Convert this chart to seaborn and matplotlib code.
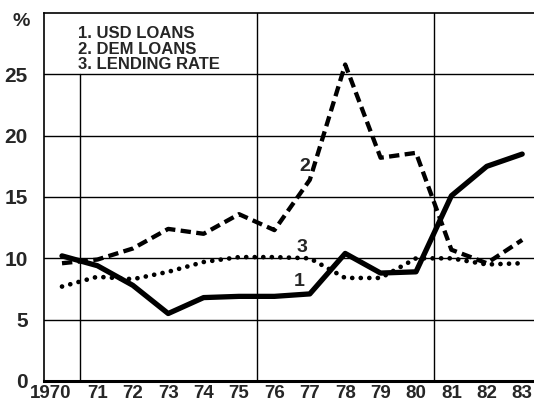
import matplotlib
matplotlib.use("Agg")
import matplotlib.pyplot as plt
import seaborn as sns
import pandas as pd
import numpy as np
from matplotlib.transforms import ScaledTranslation

years = ['1970', '71', '72', '73', '74', '75', '76', '77', '78', '79', '80', '81', '82', '83']
usd_loans = [10.2, 9.4, 7.8, 5.5, 6.8, 6.9, 6.9, 7.1, 10.4, 8.8, 8.9, 15.1, 17.5, 18.5]
dem_loans = [9.6, 9.9, 10.8, 12.4, 12.0, 13.6, 12.3, 16.4, 25.8, 18.2, 18.6, 10.7, 9.6, 11.5]
lending_rate = [7.7, 8.5, 8.3, 8.9, 9.7, 10.1, 10.1, 10.0, 8.4, 8.4, 10.0, 10.0, 9.5, 9.6]
legend_lines = ['1. USD LOANS', '2. DEM LOANS', '3. LENDING RATE']
yticks = [0, 5, 10, 15, 20, 25]

sns.set_style("white")
plt.rcParams['font.family'] = ['Liberation Sans', 'DejaVu Sans']
plt.rcParams['font.weight'] = 'bold'

idx = np.arange(len(years))
df = pd.DataFrame({'idx': idx, 'usd': usd_loans, 'dem': dem_loans, 'lend': lending_rate})

fig = plt.figure(figsize=(5.34, 4.05), dpi=100)
ax = fig.add_axes([44.3 / 534, 24 / 405, 495.6 / 534, 368 / 405])

# grid lines
for yv in [5, 10, 15, 20, 25]:
    ax.axhline(yv, color='black', lw=1.0, zorder=1)
ax.axvline(0.5, ymax=25 / 30, color='black', lw=1.0, zorder=1)
ax.axvline(5.5, color='black', lw=1.0, zorder=1)
ax.axvline(10.5, color='black', lw=1.0, zorder=1)

sns.lineplot(data=df, x='idx', y='usd', ax=ax, color='black', lw=3.8, zorder=3)
sns.lineplot(data=df, x='idx', y='dem', ax=ax, color='black', lw=3.1, zorder=3,
             linestyle=(0, (2.4, 1.25)))
sns.lineplot(data=df, x='idx', y='lend', ax=ax, color='black', lw=3.4, zorder=3,
             linestyle=(0, (0.01, 1.8)))
ax.lines[-1].set_dash_capstyle('round')

ax.set_xlim(-0.5, 13.5)
ax.set_ylim(0, 30)
ax.set_xlabel('')
ax.set_ylabel('')

ax.set_xticks(idx)
ax.set_xticklabels(years, fontsize=13.5, fontweight='bold')
ax.tick_params(axis='x', which='major', length=0, pad=3)
minor = [k - 0.5 for k in range(1, 14) if k - 0.5 not in (0.5, 5.5, 10.5)]
ax.set_xticks(minor, minor=True)
ax.tick_params(axis='x', which='minor', direction='in', length=11, width=1.3, color='black')

ax.set_yticks(yticks)
ax.set_yticklabels([str(v) for v in yticks], fontsize=15, fontweight='bold')
ax.tick_params(axis='y', length=0, pad=12)

first = ax.get_xticklabels()[0]
first.set_transform(first.get_transform() + ScaledTranslation(-0.11, 0, fig.dpi_scale_trans))

for side in ['left', 'top']:
    ax.spines[side].set_color('black')
    ax.spines[side].set_linewidth(1.2)
ax.spines['bottom'].set_color('black')
ax.spines['bottom'].set_linewidth(2.2)
ax.spines['right'].set_visible(False)

# legend text
for i, t in enumerate(legend_lines):
    ax.text(0.0674, [0.932, 0.889, 0.848][i], t, transform=ax.transAxes,
            fontsize=12, fontweight='bold', va='baseline', ha='left')

# series labels
ax.text(6.69, 8.1, '1', fontsize=14, fontweight='bold', ha='center', va='center')
ax.text(6.86, 17.5, '2', fontsize=14, fontweight='bold', ha='center', va='center')
ax.text(6.78, 10.9, '3', fontsize=14, fontweight='bold', ha='center', va='center')

fig.text(21 / 534, 1 - 21 / 405, '%', fontsize=14, fontweight='bold', ha='center', va='center')

fig.savefig('out.png', dpi=100)
